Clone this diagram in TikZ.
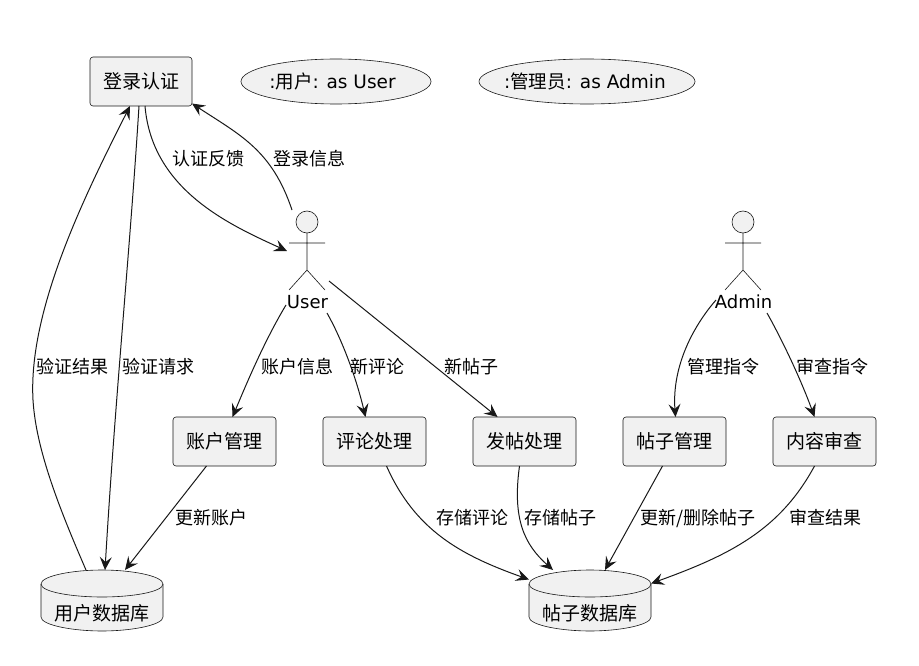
\documentclass[tikz,border=0pt]{standalone}
\usepackage{fontspec}
\setmainfont{DejaVu Sans}
\newfontfamily\cjkfont{Noto Sans CJK SC}
\newcommand{\cj}[1]{{\cjkfont #1}}
\usetikzlibrary{arrows.meta,shapes.geometric}
\definecolor{inkc}{HTML}{181818}
\definecolor{fillc}{HTML}{F1F1F1}
\tikzset{
  boxn/.style={draw=inkc,fill=fillc,line width=0.6pt,rounded corners=3pt,minimum width=103pt,minimum height=49pt,inner sep=0pt,outer sep=0pt,font=\fontsize{19}{22}\selectfont},
  usen/.style={draw=inkc,fill=fillc,line width=0.6pt,ellipse,inner sep=0pt,outer sep=0pt,minimum height=45pt,font=\fontsize{18.5}{22}\selectfont},
  actorn/.style={inner sep=0pt,outer sep=0pt,minimum width=44pt,minimum height=104pt},
  actorl/.style={inner sep=0pt,font=\fontsize{18}{22}\selectfont},
  dbn/.style={inner sep=0pt,outer sep=0pt,minimum width=122pt,minimum height=61pt},
  dbtext/.style={inner sep=0pt,font=\fontsize{19}{22}\selectfont},
  lab/.style={inner sep=0pt,font=\fontsize{18}{21}\selectfont},
  conn/.style={draw=inkc,line width=1pt,-{Stealth[length=13pt,width=12pt,inset=5pt]}},
  shape line/.style={draw=inkc,line width=0.6pt},
  db shape/.style={draw=inkc,fill=fillc,line width=0.6pt}
}
\newcommand{\drawactor}[1]{%
  \draw[shape line,fill=fillc] (#1,222) circle (11);
  \draw[shape line] (#1,233) -- (#1,270) (#1-18,243) -- (#1+18,243)
    (#1-18,290) -- (#1,270) -- (#1+18,290);
}
\newcommand{\drawdb}[1]{%
  \draw[db shape] (#1-61,584) -- (#1-61,617) .. controls (#1-61,625) and (#1-30,631) .. (#1,631)
    .. controls (#1+30,631) and (#1+61,625) .. (#1+61,617) -- (#1+61,584)
    .. controls (#1+61,576) and (#1+30,570) .. (#1,570)
    .. controls (#1-30,570) and (#1-61,576) .. (#1-61,584) -- cycle;
  \draw[shape line] (#1-61,584) .. controls (#1-61,592) and (#1-30,597) .. (#1,597)
    .. controls (#1+30,597) and (#1+61,592) .. (#1+61,584);
}
\begin{document}
\begin{tikzpicture}[x=1pt,y=-1pt]
\useasboundingbox (0,0) rectangle (919,666);
% nodes
\node[boxn,minimum width=102pt] (login) at (141,81.5) {\cj{登录认证}};
\node[usen,minimum width=190pt] (ucu) at (336,81.5) {\makebox[0pt]{:\cj{用户}: as User\hspace*{7pt}}};
\node[usen,minimum width=216pt] (uca) at (587,81.5) {\makebox[0pt]{:\cj{管理员}: as Admin\hspace*{4pt}}};
\node[boxn] (acct) at (224.5,441.5) {\cj{账户管理}};
\node[boxn] (cmt) at (374.5,441.5) {\cj{评论处理}};
\node[boxn] (post) at (524.5,441.5) {\cj{发帖处理}};
\node[boxn] (pmgr) at (674.5,441.5) {\cj{帖子管理}};
\node[boxn] (rev) at (824.5,441.5) {\cj{内容审查}};
\drawactor{307}
\drawactor{743}
\node[actorn] (user) at (307,260) {};
\node[actorn] (admin) at (743,260) {};
\node[actorl] (userl) at (307.5,302) {User};
\node[actorl] (adminl) at (743.5,302) {Admin};
\drawdb{102}
\drawdb{590}
\node[dbn] (udb) at (102,600.5) {};
\node[dbn] (pdb) at (590,600.5) {};
\node[dbtext] (udbl) at (102,613.5) {\cj{用户数据库}};
\node[dbtext] (pdbl) at (590,613.5) {\cj{帖子数据库}};
% connectors
\draw[conn] ([shift={(4,0)}]login.south) .. controls (152,190) and (230,225) .. ([shift={(-20,-9)}]user.center);
\draw[conn] ([shift={(-15,-50)}]user.center) .. controls (272,150) and (240,135) .. ([shift={(0,22)}]login.east);
\draw[conn] ([shift={(-2,0)}]login.south) .. controls (130,250) and (115,400) .. ([shift={(3,0)}]udb.north);
\draw[conn] ([shift={(-16,0)}]udb.north) .. controls (60,510) and (36,450) .. (33,400)
  .. controls (28,310) and (85,195) .. ([shift={(-11,0)}]login.south);
\draw[conn] ([shift={(-21,45)}]user.center) .. controls (265,340) and (248,380) .. ([shift={(8,0)}]acct.north);
\draw[conn] ([shift={(20,53)}]user.center) .. controls (345,345) and (358,385) .. ([shift={(-9,0)}]cmt.north);
\draw[conn] ([shift={(22,21)}]user.center) -- ([shift={(-27,0)}]post.north);
\draw[conn] ([shift={(-27,40)}]admin.center) .. controls (690,330) and (672,370) .. ([shift={(1,0)}]pmgr.north);
\draw[conn] ([shift={(24,53)}]admin.center) .. controls (785,345) and (803,385) .. ([shift={(-10,0)}]rev.north);
\draw[conn] ([shift={(-18,0)}]acct.south) -- ([shift={(23,0)}]udb.north);
\draw[conn] ([shift={(12,0)}]cmt.south) .. controls (415,530) and (460,555) .. ([shift={(-61,-21)}]pdb.center);
\draw[conn] ([shift={(-5,0)}]post.south) .. controls (512,520) and (525,545) .. ([shift={(-37,0)}]pdb.north);
\draw[conn] ([shift={(-12,0)}]pmgr.south) -- ([shift={(15,0)}]pdb.north);
\draw[conn] ([shift={(-10,0)}]rev.south) .. controls (780,530) and (730,555) .. ([shift={(61,-17)}]pdb.center);
% labels
\node[lab] (l1) at (309,159) {\cj{登录信息}};
\node[lab] (l2) at (208,159) {\cj{认证反馈}};
\node[lab] (l3) at (72.5,367) {\cj{验证结果}};
\node[lab] (l4) at (158,367) {\cj{验证请求}};
\node[lab] (l5) at (297,367) {\cj{账户信息}};
\node[lab] (l6) at (377,367) {\cj{新评论}};
\node[lab] (l7) at (471,367) {\cj{新帖子}};
\node[lab] (l8) at (723,367) {\cj{管理指令}};
\node[lab] (l9) at (832,367) {\cj{审查指令}};
\node[lab] (l10) at (211,518) {\cj{更新账户}};
\node[lab] (l11) at (472,518) {\cj{存储评论}};
\node[lab] (l12) at (560,518) {\cj{存储帖子}};
\node[lab] (l13) at (698,518) {\cj{更新/删除帖子}};
\node[lab] (l14) at (825,518) {\cj{审查结果}};
\end{tikzpicture}
\end{document}
